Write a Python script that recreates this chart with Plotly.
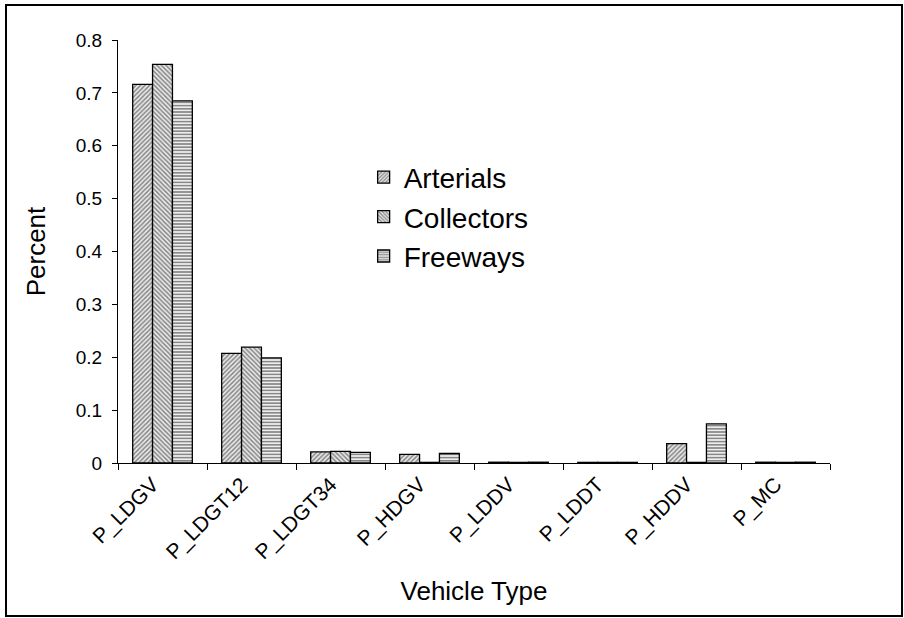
import plotly.graph_objects as go

categories = ["P_LDGV", "P_LDGT12", "P_LDGT34", "P_HDGV", "P_LDDV", "P_LDDT", "P_HDDV", "P_MC"]
arterials = [0.716, 0.2075, 0.021, 0.0165, 0.0015, 0.0012, 0.0365, 0.0015]
collectors = [0.754, 0.219, 0.022, 0.0012, 0.0012, 0.0012, 0.0012, 0.0012]
freeways = [0.685, 0.199, 0.020, 0.018, 0.0015, 0.0012, 0.074, 0.0015]
y_ticks = [0, 0.1, 0.2, 0.3, 0.4, 0.5, 0.6, 0.7, 0.8]
y_tick_labels = ["0", "0.1", "0.2", "0.3", "0.4", "0.5", "0.6", "0.7", "0.8"]

series = [("Arterials", arterials, "/"), ("Collectors", collectors, "\\"), ("Freeways", freeways, "-")]

fig = go.Figure()
for i, (name, vals, shape) in enumerate(series):
    fig.add_trace(go.Bar(
        x=categories, y=vals, name=name, legendgroup=name,
        marker=dict(color="white", line=dict(color="black", width=1.3),
                    pattern=dict(shape=shape, fgcolor="#222222", bgcolor="#eeeeee", size=3.2, solidity=0.5)),
    ))

font = "Liberation Sans, Arial, sans-serif"
fig.update_layout(
    width=904, height=618,
    margin=dict(l=118, r=74, t=40, b=155),
    paper_bgcolor="white", plot_bgcolor="white",
    barmode="group", bargap=0.33, bargroupgap=0,
    font=dict(family=font, color="black", size=18),
    showlegend=True,
    legend=dict(x=0.345, y=0.734, xanchor="left", yanchor="top", bgcolor="rgba(0,0,0,0)",
                font=dict(size=28, family=font), tracegroupgap=0, itemwidth=30),
    xaxis=dict(type="category", showline=True, linecolor="black", linewidth=1,
               ticks="outside", tickson="boundaries", ticklen=6, tickcolor="black",
               tickangle=-45, tickfont=dict(size=21), ticklabelshift=-10, showgrid=False,
               title=dict(text="Vehicle Type", font=dict(size=26), standoff=18)),
    yaxis=dict(range=[0, 0.8], tickvals=y_ticks, ticktext=y_tick_labels,
               showline=True, linecolor="black", linewidth=1,
               ticks="outside", ticklen=5, tickcolor="black", showgrid=False, zeroline=False,
               tickfont=dict(size=19), ticklabelstandoff=6,
               title=dict(text="Percent", font=dict(size=26), standoff=22)),
    shapes=[dict(type="rect", xref="paper", yref="paper",
                 x0=(6 - 118) / 712, x1=(902 - 118) / 712,
                 y0=(463 - 616) / 423, y1=(463 - 5) / 423,
                 line=dict(color="black", width=2), fillcolor="rgba(0,0,0,0)")],
)

fig.write_html("out.html")
